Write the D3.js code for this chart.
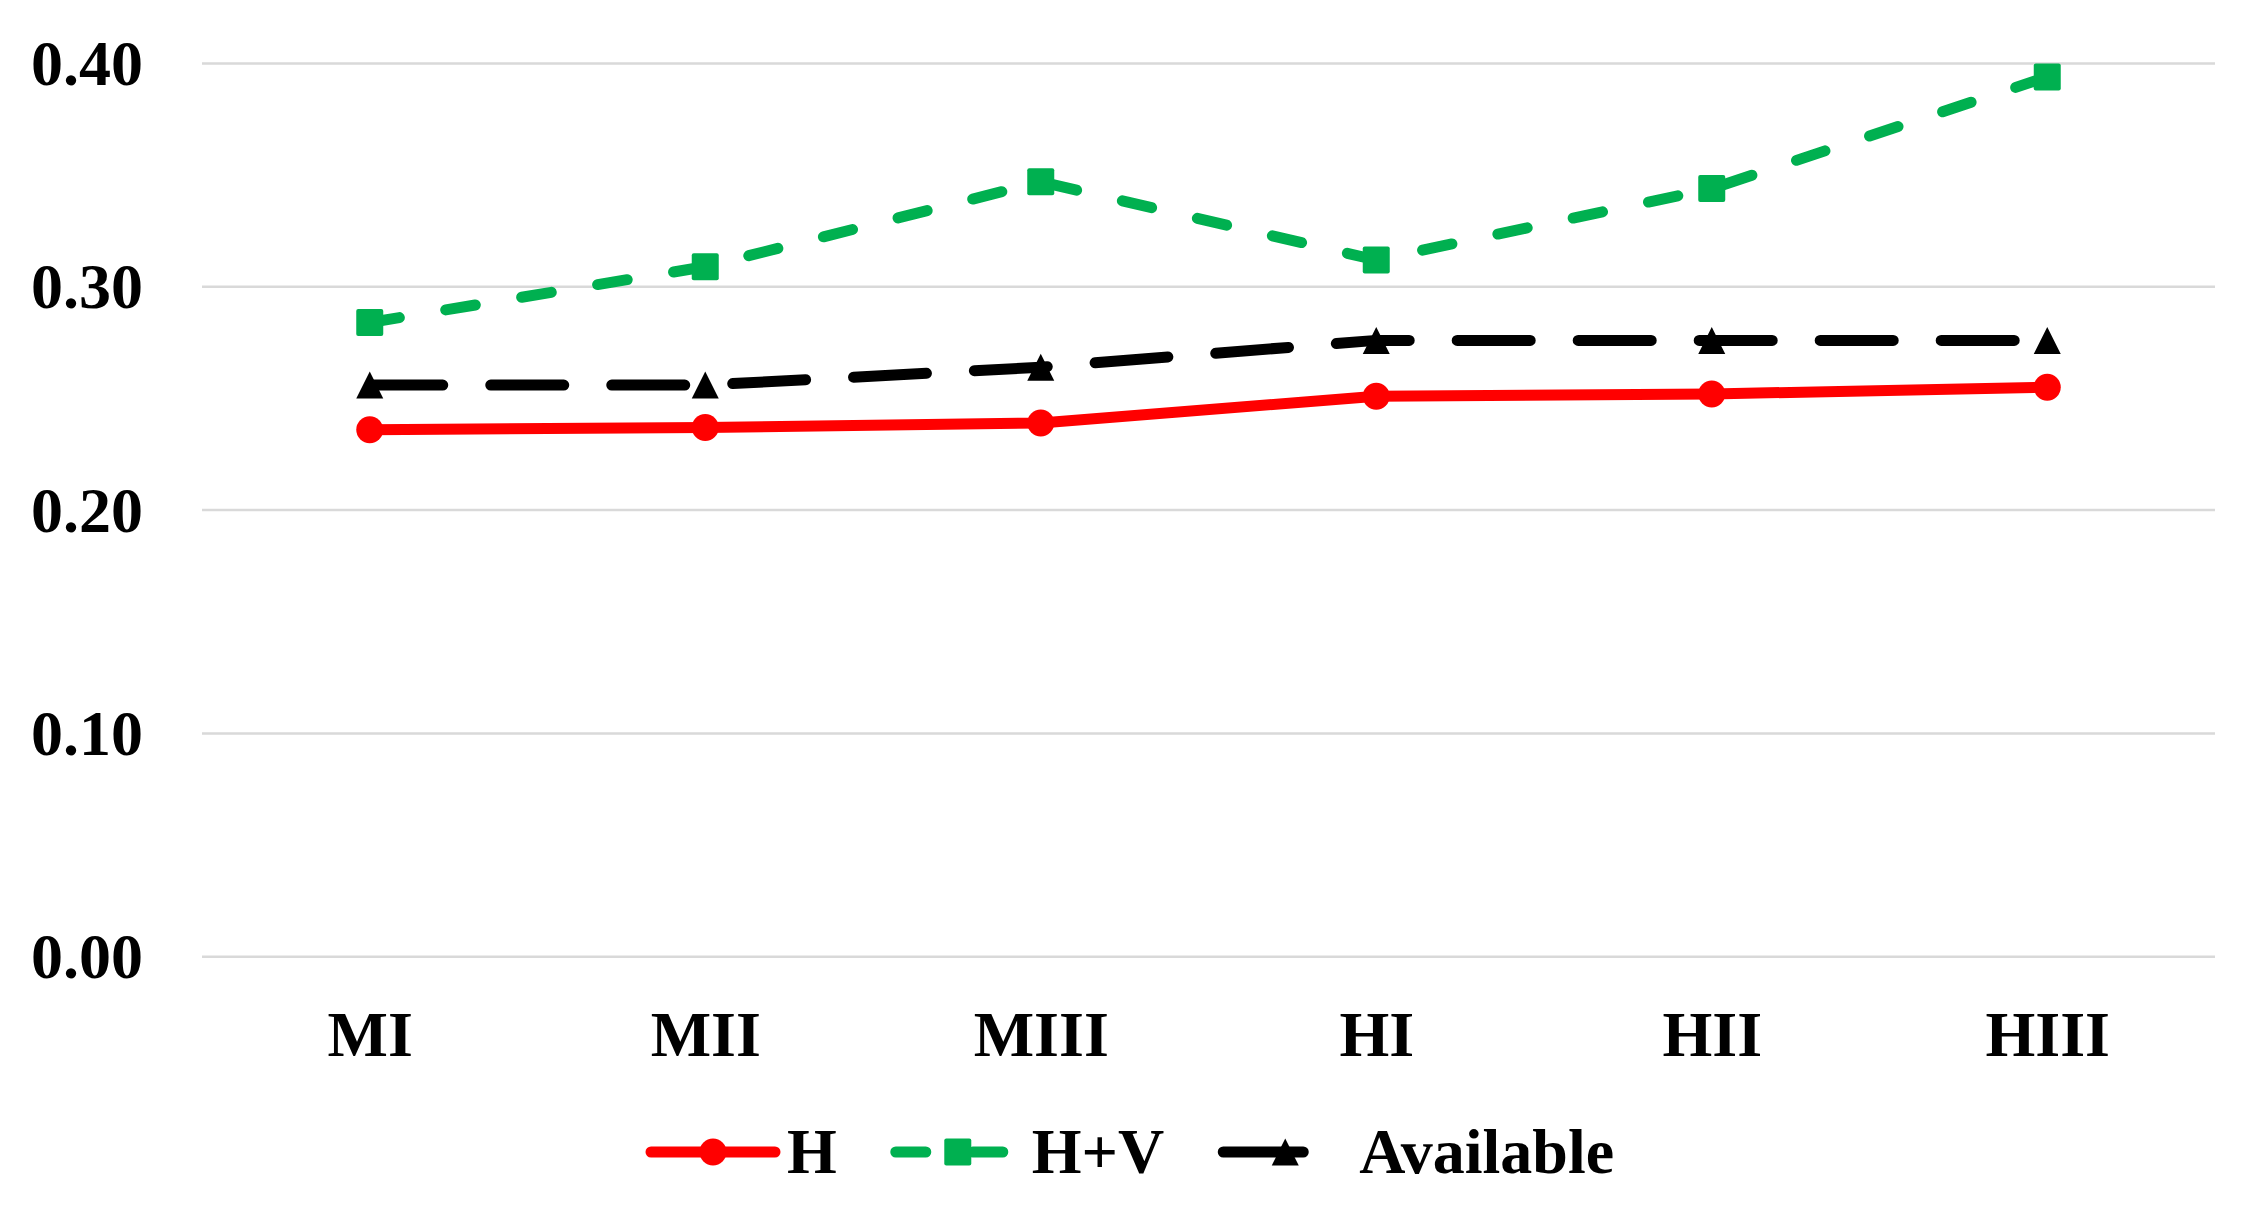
<!DOCTYPE html>
<html>
<head>
<meta charset="utf-8">
<script src="https://cdn.jsdelivr.net/npm/d3@7"></script>
<style>
  html, body { margin: 0; padding: 0; background: #fff; }
  svg { display: block; }
  text { font-family: "Liberation Serif", "Times New Roman", serif; font-weight: bold; fill: #000; }
</style>
</head>
<body>
<svg id="chart" width="2243" height="1209"></svg>
<script>
// ---- data ----
const categories = ["MI", "MII", "MIII", "HI", "HII", "HIII"];
const seriesNames = ["H", "H+V", "Available"];
const valuesH = [0.236, 0.237, 0.239, 0.251, 0.252, 0.255];
const valuesHV = [0.284, 0.309, 0.347, 0.312, 0.344, 0.394];
const valuesAvailable = [0.256, 0.256, 0.264, 0.276, 0.276, 0.276];
const yTicks = [0.00, 0.10, 0.20, 0.30, 0.40];

// ---- layout ----
const plot = { left: 202, right: 2215, top: 63.5, bottom: 956.7 };
const svg = d3.select("#chart");

const x = d3.scalePoint().domain(categories).range([plot.left, plot.right]).padding(0.5);
const y = d3.scaleLinear().domain([0, 0.40]).range([plot.bottom, plot.top]);

// gridlines
svg.append("g").selectAll("line").data(yTicks).join("line")
  .attr("x1", plot.left).attr("x2", plot.right)
  .attr("y1", d => y(d)).attr("y2", d => y(d))
  .attr("stroke", "#d9d9d9").attr("stroke-width", 2.5);

// y axis labels
const yAxis = d3.axisLeft(y).tickValues(yTicks).tickFormat(d3.format(".2f")).tickSize(0).tickPadding(0);
const gy = svg.append("g").attr("transform", `translate(143,0)`).call(yAxis);
gy.select(".domain").remove();
gy.selectAll("text").attr("font-size", 64).attr("dy", "0.33em")
  .style("font-family", '"Liberation Serif", "Times New Roman", serif').style("font-weight", "bold").attr("fill", "#000");

// x axis labels
const xAxis = d3.axisBottom(x).tickSize(0).tickPadding(0);
const gx = svg.append("g").attr("transform", `translate(0,1056)`).call(xAxis);
gx.select(".domain").remove();
gx.selectAll("text").attr("font-size", 64).attr("dy", 0).attr("y", 0)
  .style("font-family", '"Liberation Serif", "Times New Roman", serif').style("font-weight", "bold").attr("fill", "#000");

// series definitions
const series = [
  { name: seriesNames[0], values: valuesH, color: "#FF0000", width: 11, dash: null, legendDash: null, marker: "circle" },
  { name: seriesNames[1], values: valuesHV, color: "#00B050", width: 11, dash: "30,47", legendDash: "30,47", marker: "square" },
  { name: seriesNames[2], values: valuesAvailable, color: "#000000", width: 11, dash: "73,48", legendDash: "80,300", marker: "triangle" }
];

const line = d3.line().x((d, i) => x(categories[i])).y(d => y(d));

function drawMarker(g, type, cx, cy, color) {
  if (type === "circle") {
    g.append("circle").attr("cx", cx).attr("cy", cy).attr("r", 13.5).attr("fill", color);
  } else if (type === "square") {
    g.append("rect").attr("x", cx - 13.5).attr("y", cy - 13.5).attr("width", 27).attr("height", 27)
      .attr("rx", 2).attr("fill", color);
  } else {
    const w = 27, h = 27;
    g.append("path").attr("d", `M${cx},${cy - h / 2}L${cx + w / 2},${cy + h / 2}L${cx - w / 2},${cy + h / 2}Z`)
      .attr("fill", color);
  }
}

series.slice().reverse().forEach(s => {
  const g = svg.append("g");
  g.append("path").datum(s.values).attr("d", line)
    .attr("fill", "none").attr("stroke", s.color).attr("stroke-width", s.width)
    .attr("stroke-linecap", "round").attr("stroke-linejoin", "round")
    .attr("stroke-dasharray", s.dash);
  s.values.forEach((v, i) => drawMarker(g, s.marker, x(categories[i]), y(v), s.color));
});

// legend
const legendY = 1152;
const legendFont = 64;
let lx = 651;
const lineLen = 124;
series.forEach(s => {
  const g = svg.append("g");
  g.append("line").attr("x1", lx).attr("x2", lx + lineLen).attr("y1", legendY).attr("y2", legendY)
    .attr("stroke", s.color).attr("stroke-width", s.width)
    .attr("stroke-linecap", "round").attr("stroke-dasharray", s.legendDash);
  drawMarker(g, s.marker, lx + lineLen / 2, legendY, s.color);
  const t = g.append("text").attr("x", lx + lineLen + 12).attr("y", legendY + 21)
    .attr("font-size", legendFont).text(s.name);
  const tw = t.node().getComputedTextLength();
  lx = lx + lineLen + 12 + tw + 59;
});
</script>
</body>
</html>
